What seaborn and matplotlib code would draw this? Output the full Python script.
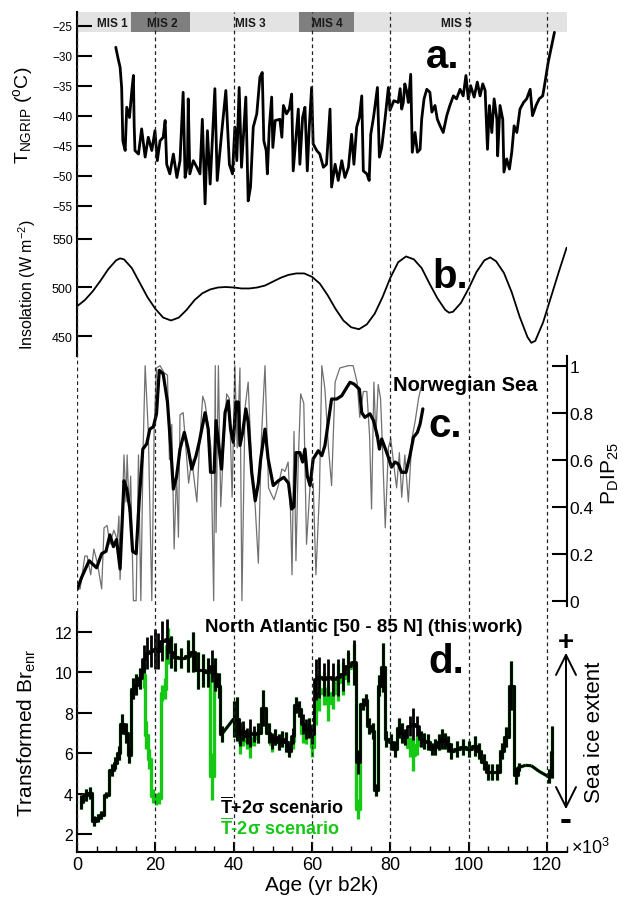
import numpy as np
import matplotlib
matplotlib.use("Agg")
import matplotlib.pyplot as plt
from matplotlib.ticker import MultipleLocator
import seaborn as sns

# ------------------------------------------------------------------ data
ngrip_age = [9.9, 10.5, 11.0, 11.4, 11.7, 12.3, 12.7, 13.4, 14.0, 14.4, 14.6, 14.8,
             15.7, 16.5, 17.4, 18.2, 19.1, 19.9, 20.5, 21.2, 22.0, 22.5, 22.9, 23.7,
             24.6, 25.5, 26.3, 27.1, 27.6, 28.2, 28.4, 28.8, 29.7, 30.6, 31.4, 32.0,
             32.7, 33.3, 34.0, 35.2, 35.8, 36.9, 38.0, 38.9, 39.7, 40.3, 40.8, 41.4,
             42.0, 43.1, 43.7, 44.3, 45.0, 45.9, 46.7, 47.3, 47.7, 48.3, 48.6, 49.1,
             49.7, 50.0, 50.6, 51.8, 52.3, 52.7, 53.5, 54.2, 54.8, 55.2, 55.9, 56.5,
             56.9, 57.6, 58.2, 58.8, 59.3, 59.9, 60.3, 61.2, 62.0, 62.9, 63.7, 64.6,
             65.0, 65.9, 66.7, 67.6, 68.4, 69.3, 70.1, 70.7, 71.4, 72.1, 72.7, 73.1,
             74.0, 74.6, 75.0, 75.7, 76.7, 77.2, 77.8, 78.6, 79.5, 79.9, 80.9, 82.0,
             82.5, 82.9, 83.3, 83.7, 84.2, 84.6, 85.2, 85.6, 86.3, 86.9, 87.6, 88.0,
             88.6, 89.3, 90.1, 90.6, 91.4, 92.0, 92.7, 93.5, 94.4, 95.2, 96.1, 96.9,
             97.8, 98.6, 99.3, 99.9, 100.5, 101.4, 102.2, 102.9, 103.6, 104.2, 104.8, 105.3,
             105.9, 106.5, 107.2, 107.4, 108.0, 108.7, 109.0, 109.7, 110.4, 111.0, 111.6, 112.3,
             113.1, 114.0, 114.8, 115.7, 116.3, 117.2, 118.0, 118.9, 119.5, 120.3, 121.2, 121.9]
ngrip_temp = [-28.6, -30.5, -31.9, -35.3, -44.2, -45.8, -38.6, -40.3, -35.8, -33.3, -41.7, -45.8,
              -46.4, -42.2, -46.9, -43.6, -45.8, -42.5, -47.5, -44.2, -43.6, -40.8, -48.1, -49.7,
              -46.4, -50.3, -47.5, -36.1, -50.3, -48.1, -37.2, -49.7, -47.5, -48.6, -49.7, -40.6,
              -54.7, -42.5, -51.4, -35.5, -50.8, -43.1, -35.8, -48.1, -49.7, -41.9, -47.5, -35.3,
              -48.6, -36.9, -54.2, -51.9, -41.9, -39.7, -33.6, -32.8, -44.2, -45.8, -49.7, -41.9,
              -36.9, -45.3, -40.8, -40.6, -43.6, -38.3, -39.7, -38.9, -36.4, -49.2, -43.6, -38.9,
              -48.1, -40.3, -38.6, -49.2, -41.9, -35.3, -44.7, -45.8, -46.4, -48.6, -48.1, -38.9,
              -51.9, -48.1, -50.8, -47.5, -50.3, -48.6, -43.1, -48.1, -41.9, -40.3, -36.7, -49.2,
              -49.7, -50.8, -43.1, -40.3, -35.3, -46.9, -45.3, -40.8, -35.3, -39.1, -37.5, -37.8,
              -35.5, -38.9, -37.8, -34.7, -36.0, -37.8, -33.1, -46.1, -42.8, -46.1, -45.6, -40.6,
              -37.2, -35.6, -36.1, -39.4, -38.3, -40.6, -41.7, -42.8, -40.0, -38.3, -36.7, -37.2,
              -35.6, -36.7, -33.3, -37.2, -35.0, -36.9, -34.4, -36.7, -34.7, -35.8, -45.6, -38.3,
              -42.8, -37.2, -40.6, -46.7, -38.3, -40.6, -49.4, -47.2, -48.9, -46.1, -41.7, -42.8,
              -38.9, -37.8, -37.2, -35.6, -40.0, -38.3, -37.2, -36.7, -34.4, -31.1, -28.3, -26.1]

ins_age = [0, 2, 4, 6, 8, 10, 11, 12, 14, 16, 18, 20, 22, 24, 26, 28, 30, 32, 34, 36,
           38, 40, 42, 44, 46, 48, 50, 52, 54, 56, 58, 60, 62, 64, 66, 68, 70, 72, 74, 76,
           78, 80, 82, 84, 86, 88, 90, 92, 94, 95, 96, 98, 100, 102, 104, 105.5, 107, 109,
           111, 113, 115, 116, 117, 119, 121, 123, 125]
ins_val = [480.6, 487, 496, 507, 519, 528, 530, 529, 520, 505, 490, 478, 469, 466, 469, 477, 487,
           494, 498, 500, 500.5, 500, 499, 499, 500, 502, 506, 510, 513, 514.5, 514.5, 511, 504,
           492, 478, 466, 459, 457, 462, 473, 490, 510, 526, 532, 529, 520, 504, 489, 477, 474,
           475, 484, 499, 516, 528, 531, 527, 515, 495, 470, 449, 443, 445, 464, 490, 516, 541]

pdip_raw_age = [0.1, 0.8, 2.0, 2.6, 3.5, 4.3, 5.2, 6.3, 6.9, 7.7, 8.4, 9.4, 10.3, 10.7, 11.0,
                12.0, 12.5, 12.8, 13.3, 13.7, 14.4, 15.1, 15.7, 16.3, 16.9, 17.4, 18.2, 19.1,
                19.7, 20.3, 21.2, 22.2, 23.1, 23.6, 24.2, 24.8, 25.4, 25.9, 26.3, 27.1, 27.9,
                28.5, 29.3, 30.6, 31.3, 32.1, 32.7, 33.6, 34.2, 34.9, 35.3, 35.5, 36.1, 36.7,
                37.4, 38.2, 38.9, 39.6, 40.3, 40.9, 41.6, 42.1, 42.9, 43.7, 44.6, 45.5, 46.3,
                47.1, 48.0, 48.9, 49.7, 50.3, 51.4, 52.3, 53.1, 53.9, 54.5, 54.9, 55.4, 55.9,
                56.5, 57.1, 57.9, 58.6, 59.5, 60.3, 61.0, 61.9, 62.5, 63.3, 64.2, 65.0, 65.9,
                67.1, 69.3, 70.5, 71.5, 72.2, 73.1, 74.0, 74.7, 75.2, 75.8, 76.3, 76.9, 77.5,
                78.0, 78.7, 79.5, 80.1, 80.8, 81.6, 82.3, 82.9, 83.7, 84.6, 85.5, 86.3, 87.2, 88.0]
pdip_raw = [0.05, 0.05, 0.19, 0.19, 0.11, 0.22, 0.16, 0.05, 0.31, 0.32, 0.24, 0.30, 0.26, 0.36, 0.09,
            0.62, 0.42, 0.62, 0.38, 0.53, 0.0, 0.0, 0.62, 0.0, 0.66, 1.0, 0.72, 0.0,
            0.73, 0.99, 1.0, 0.97, 0.96, 0.60, 0.75, 0.22, 0.55, 0.27, 0.79, 0.80, 0.63,
            0.50, 0.60, 0.42, 0.67, 0.87, 0.84, 0.73, 0.65, 0.0, 1.0, 0.29, 1.0, 0.40,
            0.65, 0.88, 0.86, 0.44, 1.0, 0.65, 0.99, 0.0, 0.82, 0.93, 0.57, 0.40, 0.16,
            0.70, 1.0, 0.48, 0.45, 0.43, 0.49, 0.56, 0.55, 0.59, 0.38, 0.11, 0.72, 0.17,
            0.60, 0.88, 0.84, 0.24, 0.49, 0.50, 0.11, 0.46, 1.0, 0.90, 0.65, 0.49, 0.93,
            0.99, 1.0, 1.0, 0.93, 0.78, 0.89, 0.89, 0.70, 0.39, 0.93, 0.70, 0.92, 0.86,
            0.65, 0.31, 0.65, 0.69, 0.59, 0.48, 0.63, 0.44, 0.62, 0.42, 0.69, 0.76, 0.86, 0.92]

pdip_smooth_age = [0.1, 1.2, 3.1, 5.0, 6.3, 7.4, 8.4, 9.3, 10.1, 11.0, 12.0, 12.7, 13.5, 14.2,
                   15.1, 15.9, 16.8, 17.8, 18.6, 19.5, 20.3, 21.0, 22.0, 23.1, 23.9, 24.6, 25.4,
                   26.3, 27.4, 28.4, 29.3, 30.4, 31.2, 32.7, 33.5, 34.1, 35.0, 35.5, 36.2, 36.9,
                   37.8, 38.6, 39.2, 39.9, 40.6, 41.2, 41.6, 42.3, 43.1, 43.7, 44.6, 45.5, 46.3,
                   46.9, 48.0, 48.8, 50.1, 51.4, 52.8, 54.0, 54.8, 55.4, 55.9, 56.9, 57.6, 58.2,
                   58.8, 59.5, 60.3, 61.6, 62.5, 63.3, 64.2, 65.0, 66.3, 67.6, 68.9, 69.7, 70.7,
                   72.1, 72.7, 73.5, 74.8, 75.7, 76.7, 77.2, 77.8, 78.6, 79.5, 80.3, 81.2, 82.0,
                   82.9, 84.0, 85.0, 85.9, 86.9, 87.6, 88.3]
pdip_smooth = [0.05, 0.10, 0.17, 0.14, 0.20, 0.21, 0.28, 0.23, 0.26, 0.135, 0.51, 0.475, 0.39, 0.21,
               0.20, 0.43, 0.645, 0.667, 0.73, 0.74, 0.795, 0.98, 0.965, 0.845, 0.66, 0.475, 0.525,
               0.645, 0.716, 0.645, 0.56, 0.617, 0.674, 0.80, 0.73, 0.546, 0.546, 0.766, 0.66, 0.56,
               0.80, 0.85, 0.73, 0.674, 0.845, 0.845, 0.66, 0.716, 0.816, 0.76, 0.546, 0.425, 0.50,
               0.603, 0.73, 0.603, 0.49, 0.51, 0.525, 0.50, 0.39, 0.40, 0.63, 0.63, 0.59, 0.645,
               0.53, 0.49, 0.603, 0.638, 0.617, 0.66, 0.766, 0.858, 0.858, 0.872, 0.908, 0.929, 0.922,
               0.90, 0.80, 0.78, 0.795, 0.766, 0.70, 0.645, 0.688, 0.652, 0.61, 0.568, 0.59, 0.582,
               0.546, 0.546, 0.617, 0.695, 0.716, 0.752, 0.816]

# Transformed Br_enr, mean + 2 sigma scenario (black)
br_hi_age = [1.0, 2.2, 3.3, 4.4, 5.3, 6.1, 7.5, 8.9, 9.8, 10.6, 11.6, 12.5, 13.3, 14.2, 15.1,
             16.0, 17.0, 17.9, 18.9, 19.9, 20.8, 21.8, 22.9, 24.0, 25.0, 26.6, 28.3, 29.5,
             30.9, 32.1, 33.4, 34.5, 35.3, 36.2, 37.0,
             40.0, 40.8, 41.7, 42.5, 43.3, 44.2, 45.1, 46.2, 47.6, 48.9,
             49.8, 50.6, 51.5, 52.3, 53.3, 54.2, 55.1, 55.9, 56.8, 57.6,
             58.5, 59.3, 60.0, 60.9, 61.9, 63.0, 64.1, 65.4, 66.7, 67.8,
             69.2, 70.6, 71.8, 72.9, 73.7, 74.6, 75.5, 76.4, 77.2, 78.1,
             79.0, 80.2, 81.2, 82.1, 82.9, 83.8, 84.9, 85.9, 86.8, 87.7,
             88.7, 89.7, 90.6, 91.4, 92.3, 93.1, 94.0, 94.8, 95.6, 97.0,
             98.6, 100.1, 101.5, 102.7, 103.8, 104.9, 106.0, 107.3, 108.5, 109.6,
             110.8, 112.1, 112.9, 114.5, 116.0, 118.0, 120.0, 120.6, 121.3]
br_hi = [3.6, 3.95, 4.05, 2.65, 2.8, 2.95, 3.95, 5.15, 5.5, 6.0, 7.45, 7.0, 5.9, 9.2, 9.4,
         9.7, 10.65, 10.95, 11.05, 11.15, 11.05, 11.55, 11.65, 11.0, 10.75, 10.7, 10.8, 11.0,
         10.1, 10.1, 10.0, 10.3, 9.9, 9.35, 6.95,
         7.7, 7.7, 6.95, 7.1, 6.85, 7.0, 6.95, 7.0, 8.25, 7.0,
         6.6, 6.8, 6.55, 6.7, 6.55, 6.1, 6.85, 8.4, 8.2, 7.45,
         7.2, 7.25, 6.95, 9.65, 9.75, 9.65, 9.75, 9.65, 9.75, 9.9,
         10.3, 10.5, 5.55, 8.45, 8.65, 7.35, 7.1, 4.2, 9.35, 10.25,
         6.7, 6.55, 6.2, 7.25, 7.0, 6.8, 7.35, 7.45, 7.35, 6.7,
         6.6, 6.55, 6.2, 6.3, 6.55, 6.7, 6.6, 6.45, 6.1, 6.2,
         6.3, 6.2, 6.35, 6.1, 5.55, 5.05, 5.05, 5.05, 6.1, 6.8,
         9.35, 4.9, 5.3, 5.4, 5.38, 5.1, 4.88, 4.88, 6.05]
br_hi_err = [0.35, 0.3, 0.3, 0.25, 0.2, 0.2, 0.15, 0.3, 0.3, 0.35, 0.5, 0.5, 0.4, 0.5, 0.5,
             0.5, 0.7, 0.8, 0.8, 1.0, 0.9, 1.0, 1.0, 0.8, 0.7, 0.5, 0.8, 1.0,
             0.9, 0.8, 0.7, 0.8, 0.8, 0.6, 0.4,
             0.9, 1.1, 0.6, 0.5, 0.4, 0.7, 0.4, 0.5, 0.9, 0.5,
             0.4, 0.4, 0.4, 0.4, 0.5, 0.3, 0.4, 0.4, 0.4, 0.5,
             0.5, 0.5, 0.5, 1.0, 1.0, 0.8, 0.9, 0.8, 0.9, 0.8,
             0.8, 1.1, 0.6, 0.3, 0.3, 0.4, 0.4, 0.3, 0.5, 1.2,
             0.4, 0.4, 0.4, 0.5, 0.5, 0.4, 0.5, 0.8, 0.5, 0.4,
             0.4, 0.4, 0.3, 0.4, 0.4, 0.5, 0.4, 0.4, 0.4, 0.4,
             0.4, 0.4, 0.5, 0.4, 0.4, 0.4, 0.4, 0.4, 0.4, 0.5,
             1.2, 0.4, 0.2, 0.0, 0.0, 0.0, 0.0, 0.35, 1.3]

# Transformed Br_enr, mean - 2 sigma scenario (green)
br_lo_age = [1.0, 2.2, 3.3, 4.4, 5.3, 6.1, 7.5, 8.9, 9.8, 10.6, 11.6, 12.5, 13.3, 14.2, 15.1,
             16.0, 17.0, 17.7, 18.4, 19.3, 20.2, 21.0, 21.7, 22.4, 23.2, 24.0, 25.0, 26.6, 28.3, 29.5,
             30.9, 32.1, 33.4, 34.5, 35.3, 36.2, 37.0,
             40.0, 40.8, 41.7, 42.5, 43.3, 44.2, 45.1, 46.2, 47.6, 48.9,
             49.8, 50.6, 51.5, 52.3, 53.3, 54.2, 55.1, 55.9, 56.8, 57.6,
             58.5, 59.3, 60.0, 60.9, 61.9, 63.0, 64.1, 65.4, 66.7, 67.8,
             69.2, 70.6, 71.8, 72.9, 73.7, 74.6, 75.5, 76.4, 77.2, 78.1,
             79.0, 80.2, 81.2, 82.1, 82.9, 83.8, 84.9, 85.9, 86.8, 87.7,
             88.7, 89.7, 90.6, 91.4, 92.3, 93.1, 94.0, 94.8, 95.6, 97.0,
             98.6, 100.1, 101.5, 102.7, 103.8, 104.9, 106.0, 107.3, 108.5, 109.6,
             110.8, 112.1, 112.9, 114.5, 116.0, 118.0, 120.0, 120.6, 121.3]
br_lo = [3.6, 3.95, 4.05, 2.65, 2.8, 2.95, 3.95, 5.15, 5.5, 6.0, 7.45, 7.0, 5.9, 9.2, 9.4,
         9.7, 9.85, 6.9, 5.7, 3.9, 3.75, 3.8, 9.0, 9.2, 11.3, 11.0, 10.75, 10.7, 10.8, 11.0,
         10.1, 10.1, 10.0, 4.85, 9.9, 9.35, 6.95,
         7.7, 7.7, 6.55, 6.85, 6.6, 6.45, 6.75, 7.0, 8.25, 7.0,
         6.45, 6.8, 6.55, 6.7, 6.55, 6.1, 6.6, 8.4, 8.2, 7.0,
         6.95, 7.25, 6.3, 8.2, 9.0, 9.2, 8.5, 9.0, 9.5, 9.7,
         10.2, 10.4, 3.25, 8.45, 8.65, 7.35, 7.1, 4.2, 9.35, 10.25,
         6.7, 6.55, 6.2, 7.25, 7.0, 6.8, 6.3, 5.9, 6.4, 6.7,
         6.6, 6.55, 6.2, 6.3, 6.55, 6.7, 6.6, 6.45, 6.1, 6.2,
         6.3, 6.2, 6.35, 6.1, 5.55, 5.05, 5.05, 5.05, 6.1, 6.8,
         9.35, 4.9, 5.3, 5.4, 5.38, 5.1, 4.88, 4.88, 6.05]
br_lo_err = [0.35, 0.3, 0.3, 0.25, 0.2, 0.2, 0.15, 0.3, 0.3, 0.35, 0.5, 0.5, 0.4, 0.5, 0.5,
             0.5, 0.6, 0.7, 0.5, 0.35, 0.3, 0.3, 0.4, 0.5, 0.9, 0.8, 0.7, 0.5, 0.8, 1.0,
             0.9, 0.8, 0.7, 1.15, 0.8, 0.6, 0.4,
             0.9, 1.1, 0.6, 0.5, 0.4, 0.7, 0.4, 0.5, 0.9, 0.5,
             0.4, 0.4, 0.4, 0.4, 0.5, 0.3, 0.4, 0.4, 0.4, 0.5,
             0.5, 0.5, 0.5, 0.8, 0.9, 0.8, 0.9, 0.8, 0.9, 0.8,
             0.8, 1.0, 0.5, 0.3, 0.3, 0.4, 0.4, 0.3, 0.5, 1.2,
             0.4, 0.4, 0.4, 0.5, 0.5, 0.4, 0.5, 0.8, 0.5, 0.4,
             0.4, 0.4, 0.3, 0.4, 0.4, 0.5, 0.4, 0.4, 0.4, 0.4,
             0.4, 0.4, 0.5, 0.4, 0.4, 0.4, 0.4, 0.4, 0.4, 0.5,
             1.2, 0.4, 0.2, 0.0, 0.0, 0.0, 0.0, 0.35, 1.3]
# ages after which the record is joined by a straight segment instead of a step
br_linear_after = [37.0, 112.9, 114.5, 116.0, 118.0]

mis_labels = ["MIS 1", "MIS 2", "MIS 3", "MIS 4", "MIS 5"]
mis_start = [0.0, 13.8, 28.9, 56.8, 70.7]
mis_end = [13.8, 28.9, 56.8, 70.7, 125.0]
mis_label_age = [9.0, 21.7, 44.2, 63.9, 96.9]
mis_dark = [False, True, False, True, False]

boundary_ages = [0, 20, 40, 60, 80, 100, 120]

# ------------------------------------------------------------------ style
sns.set_style("ticks")
plt.rcParams["font.family"] = ["Liberation Sans", "DejaVu Sans"]
plt.rcParams["mathtext.fontset"] = "custom"
plt.rcParams["mathtext.rm"] = "Liberation Sans"
plt.rcParams["mathtext.it"] = "Liberation Sans:italic"
plt.rcParams["mathtext.bf"] = "Liberation Sans:bold"
plt.rcParams["mathtext.sf"] = "Liberation Sans"
plt.rcParams["mathtext.default"] = "regular"
plt.rcParams["axes.linewidth"] = 1.5
for key in ["text.color", "axes.labelcolor", "xtick.color", "ytick.color", "axes.edgecolor"]:
    plt.rcParams[key] = "black"

W, H = 623, 903
fig = plt.figure(figsize=(W / 100, H / 100), dpi=100)
XL, XR = 77, 566.6
XMAX = 125


def rect(y0, y1):
    return [XL / W, 1 - y1 / H, (XR - XL) / W, (y1 - y0) / H]


def fxy(px, py):
    return px / W, 1 - py / H


GREEN = "#14c814"


def clean(ax, keep):
    for s in ["left", "right", "top", "bottom"]:
        ax.spines[s].set_visible(s in keep)
        ax.spines[s].set_linewidth(1.5)
        ax.spines[s].set_color("black")
    ax.patch.set_visible(False)
    ax.set_xlim(0, XMAX)
    ax.set_xlabel("")
    ax.set_ylabel("")


# ---------------- panel a: NGRIP temperature
axA = fig.add_axes(rect(13, 229))
sns.lineplot(x=ngrip_age, y=ngrip_temp, ax=axA, color="black", linewidth=2.0,
             estimator=None, sort=False)
clean(axA, ["left"])
ylo, yhi = -58.72, -22.72
axA.set_ylim(ylo, yhi)
band_bottom = -26.05
fr = (band_bottom - ylo) / (yhi - ylo)
for lab, s, e, la, dk in zip(mis_labels, mis_start, mis_end, mis_label_age, mis_dark):
    axA.axvspan(s, e, ymin=fr, ymax=1, color="#7f7f7f" if dk else "#e3e3e3", lw=0, zorder=0)
    axA.text(la, (band_bottom + yhi) / 2 - 0.1, lab, ha="center", va="center",
             fontsize=8.5, fontweight="bold", color="#1a1a1a")
axA.set_yticks([-25, -30, -35, -40, -45, -50, -55])
axA.tick_params(axis="y", direction="in", length=11, width=1.5, labelsize=8.5, pad=3)
axA.tick_params(axis="x", bottom=False, labelbottom=False)

# ---------------- panel b: insolation
axB = fig.add_axes(rect(229, 357))
sns.lineplot(x=ins_age, y=ins_val, ax=axB, color="black", linewidth=1.3,
             estimator=None, sort=False)
clean(axB, ["left"])
axB.set_ylim(429.4, 561.3)
axB.set_yticks([450, 500, 550])
axB.tick_params(axis="y", direction="in", length=11, width=1.5, labelsize=9, pad=3)
axB.tick_params(axis="x", bottom=False, labelbottom=False)

# ---------------- panel c: PDIP25
axC = fig.add_axes(rect(357, 607))
sns.lineplot(x=pdip_raw_age, y=pdip_raw, ax=axC, color="#707070", linewidth=0.9,
             estimator=None, sort=False)
sns.lineplot(x=pdip_smooth_age, y=pdip_smooth, ax=axC, color="black", linewidth=2.3,
             estimator=None, sort=False)
clean(axC, ["right"])
axC.set_ylim(-0.0226, 1.041)
axC.set_yticks([0, 0.2, 0.4, 0.6, 0.8, 1.0])
axC.set_yticklabels(["0", "0.2", "0.4", "0.6", "0.8", "1"])
axC.yaxis.tick_right()
axC.tick_params(axis="y", direction="in", length=11, width=1.5, labelsize=12.5, pad=2,
                right=True, left=False, labelright=True, labelleft=False)
axC.tick_params(axis="x", bottom=False, labelbottom=False)

# ---------------- panel d: transformed Br_enr
axD = fig.add_axes(rect(613, 853))


def draw_record(ax, ages, vals, errs, color, lw):
    ages = np.asarray(ages)
    vals = np.asarray(vals)
    errs = np.asarray(errs)
    cut = [0]
    for i, a in enumerate(ages):
        if np.any(np.isclose(a, br_linear_after)):
            cut.append(i + 1)
    cut.append(len(ages))
    segs = [(cut[k], cut[k + 1]) for k in range(len(cut) - 1) if cut[k + 1] > cut[k]]
    for (i0, i1) in segs:
        if i1 - i0 > 1:
            sns.lineplot(x=ages[i0:i1], y=vals[i0:i1], ax=ax, color=color, linewidth=lw,
                         drawstyle="steps-mid", estimator=None, sort=False)
    for (a0, a1), (b0, b1) in zip(segs[:-1], segs[1:]):
        ax.plot([ages[a1 - 1], ages[b0]], [vals[a1 - 1], vals[b0]], color=color, lw=lw,
                solid_capstyle="butt")
    m = errs > 0
    ax.errorbar(ages[m], vals[m], yerr=errs[m], fmt="none", ecolor=color,
                elinewidth=lw, capsize=0)


draw_record(axD, br_lo_age, br_lo, br_lo_err, GREEN, 2.4)
draw_record(axD, br_hi_age, br_hi, br_hi_err, "black", 2.0)
clean(axD, ["left", "bottom"])
axD.set_ylim(1.109, 12.99)
axD.set_yticks([2, 4, 6, 8, 10, 12])
axD.set_xticks([0, 20, 40, 60, 80, 100, 120])
axD.xaxis.set_minor_locator(MultipleLocator(5))
axD.tick_params(axis="y", direction="in", length=11, width=1.5, labelsize=11.5, pad=3)
axD.tick_params(axis="x", which="major", direction="in", length=7, width=1.5,
                labelsize=13, pad=3)
axD.tick_params(axis="x", which="minor", direction="in", length=4, width=1.0)
axD.tick_params(axis="y", which="minor", left=False)

# ---------------- dashed age boundaries across all panels
axL = fig.add_axes(rect(13, 853))
axL.set_xlim(0, XMAX)
axL.set_ylim(0, 1)
axL.axis("off")
for a in boundary_ages:
    axL.axvline(a, color="#222222", lw=0.9, linestyle=(0, (3, 2.5)))

# ---------------- texts
fig.text(*fxy(443, 68), "a.", ha="center", va="baseline", fontsize=29, fontweight="bold")
fig.text(*fxy(450, 288), "b.", ha="center", va="baseline", fontsize=29, fontweight="bold")
fig.text(*fxy(445, 437), "c.", ha="center", va="baseline", fontsize=29, fontweight="bold")
fig.text(*fxy(446, 673), "d.", ha="center", va="baseline", fontsize=29, fontweight="bold")

fig.text(*fxy(393, 391), "Norwegian Sea", ha="left", va="baseline", fontsize=14.5,
         fontweight="bold")
fig.text(*fxy(205, 632), "North Atlantic [50 - 85 N] (this work)", ha="left",
         va="baseline", fontsize=13.5, fontweight="bold")
fig.text(*fxy(220, 814), r"$\overline{\mathbf{T}}$+2σ scenario", ha="left", va="baseline",
         fontsize=13, fontweight="bold", color="black")
fig.text(*fxy(220, 835), r"$\overline{\mathbf{T}}$-2σ scenario", ha="left", va="baseline",
         fontsize=13, fontweight="bold", color=GREEN)

fig.text(*fxy(23, 115), r"T$_{NGRIP}$ ($^{o}$C)", rotation=90, ha="center", va="center",
         fontsize=14)
fig.text(*fxy(27, 285), r"Insolation (W m$^{-2}$)", rotation=90, ha="center", va="center",
         fontsize=11.5)
fig.text(*fxy(610, 474), r"P$_{D}$IP$_{25}$", rotation=90, ha="center", va="center",
         fontsize=15)
fig.text(*fxy(27, 733), r"Transformed Br$_{enr}$", rotation=90, ha="center", va="center",
         fontsize=15)
fig.text(*fxy(322, 886), "Age (yr b2k)", ha="center", va="center", fontsize=15)
fig.text(*fxy(571, 848), r"$\times$10$^{3}$", ha="left", va="center", fontsize=13)

# sea-ice extent arrow
fig.patches.append(matplotlib.patches.FancyArrowPatch(
    fxy(566, 813), fxy(566, 651), transform=fig.transFigure,
    arrowstyle="<->,head_length=0.9,head_width=0.45", mutation_scale=16,
    lw=1.4, color="black"))
fig.text(*fxy(566, 643), "+", ha="center", va="center", fontsize=20, fontweight="bold")
fig.text(*fxy(566, 821), "-", ha="center", va="center", fontsize=26, fontweight="bold")
fig.text(*fxy(594, 732), "Sea ice extent", rotation=90, ha="center", va="center",
         fontsize=16)

fig.savefig("out.png", dpi=100)
